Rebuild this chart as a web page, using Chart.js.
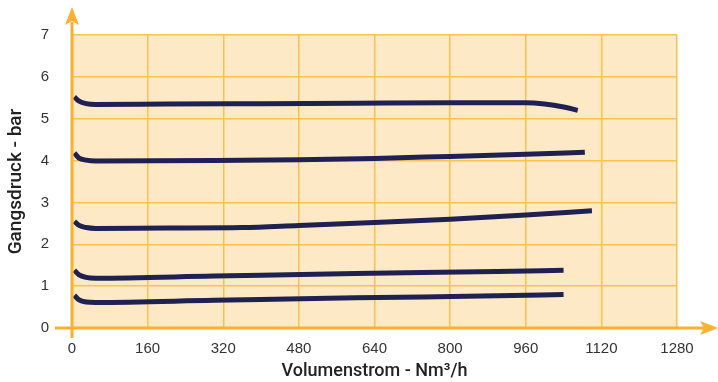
<!DOCTYPE html>
<html>
<head>
<meta charset="utf-8">
<script src="https://cdn.jsdelivr.net/npm/chart.js@4/dist/chart.umd.min.js"></script>
<style>
  html, body { margin: 0; padding: 0; background: #fff; }
  #wrap { position: relative; width: 718px; height: 382px; }
</style>
</head>
<body>
<div id="wrap"><canvas id="c"></canvas></div>
<script>
// x ticks (Nm³/h) and y ticks (bar)
const xTicks = [0, 160, 320, 480, 640, 800, 960, 1120, 1280];
const yTicks = [0, 1, 2, 3, 4, 5, 6, 7];

// curves, top to bottom
const flow1 = [5, 15, 30, 50, 200, 400, 600, 800, 960, 1000, 1040, 1070];
const pres1 = [5.52, 5.42, 5.36, 5.34, 5.35, 5.36, 5.37, 5.38, 5.38, 5.35, 5.28, 5.2];

const flow2 = [5, 15, 30, 50, 300, 480, 640, 800, 960, 1085];
const pres2 = [4.18, 4.06, 4.01, 3.99, 4.0, 4.02, 4.05, 4.1, 4.15, 4.2];

const flow3 = [5, 15, 30, 50, 200, 360, 480, 640, 800, 960, 1100];
const pres3 = [2.55, 2.45, 2.4, 2.38, 2.39, 2.4, 2.45, 2.52, 2.6, 2.7, 2.8];

const flow4 = [5, 15, 30, 50, 300, 600, 900, 1040];
const pres4 = [1.38, 1.27, 1.21, 1.19, 1.24, 1.3, 1.35, 1.38];

const flow5 = [5, 15, 30, 50, 300, 600, 900, 1040];
const pres5 = [0.78, 0.67, 0.62, 0.61, 0.66, 0.72, 0.77, 0.8];

const orange = "#FBB030";
const gridOrange = "#F9C150";
const navy = "#1F2152";

const toPoints = (xs, ys) => xs.map((x, i) => ({ x: x, y: ys[i] }));

const curve = (xs, ys) => ({
  data: toPoints(xs, ys),
  borderColor: navy,
  borderWidth: 5,
  pointRadius: 0,
  showLine: true,
  fill: false,
  cubicInterpolationMode: "monotone",
  borderCapStyle: "butt",
});

// paper fill behind the plot + orange axes with arrows
const chartDecor = {
  id: "chartDecor",
  beforeDraw(chart) {
    const { ctx, chartArea: a } = chart;
    ctx.save();
    ctx.fillStyle = "#FEE9C7";
    ctx.fillRect(a.left, a.top, a.right - a.left, a.bottom - a.top);
    ctx.restore();
  },
  afterDatasetsDraw(chart) {
    const { ctx, chartArea: a, width } = chart;
    ctx.save();
    ctx.strokeStyle = orange;
    ctx.fillStyle = orange;
    ctx.lineWidth = 3;
    // y axis
    ctx.beginPath();
    ctx.moveTo(a.left, a.bottom + 10);
    ctx.lineTo(a.left, 22);
    ctx.stroke();
    ctx.beginPath();
    ctx.moveTo(a.left, 7);
    ctx.lineTo(a.left - 7, 25);
    ctx.lineTo(a.left, 21);
    ctx.lineTo(a.left + 7, 25);
    ctx.closePath();
    ctx.fill();
    // x axis
    ctx.beginPath();
    ctx.moveTo(a.left - 17, a.bottom);
    ctx.lineTo(width - 14, a.bottom);
    ctx.stroke();
    ctx.beginPath();
    ctx.moveTo(width, a.bottom);
    ctx.lineTo(width - 18, a.bottom - 7);
    ctx.lineTo(width - 14, a.bottom);
    ctx.lineTo(width - 18, a.bottom + 7);
    ctx.closePath();
    ctx.fill();
    ctx.restore();
  },
};

new Chart(document.getElementById("c"), {
  type: "scatter",
  data: {
    datasets: [
      curve(flow1, pres1),
      curve(flow2, pres2),
      curve(flow3, pres3),
      curve(flow4, pres4),
      curve(flow5, pres5),
    ],
  },
  options: {
    responsive: true,
    maintainAspectRatio: false,
    animation: false,
    layout: { padding: { top: 35, right: 41, left: 0, bottom: 0 } },
    plugins: {
      legend: { display: false },
      tooltip: { enabled: false },
    },
    scales: {
      x: {
        type: "linear",
        min: xTicks[0],
        max: xTicks[xTicks.length - 1],
        afterBuildTicks: (s) => { s.ticks = xTicks.map((v) => ({ value: v })); },
        afterFit: (s) => { s.height = 54; },
        border: { display: false },
        grid: { color: gridOrange, lineWidth: 1.5, drawTicks: false },
        ticks: {
          padding: 12,
          color: "#333",
          font: { family: "Liberation Sans", size: 15 },
          maxRotation: 0,
          callback: (v) => String(v),
        },
        title: {
          display: true,
          text: "Volumenstrom - Nm³/h",
          color: "#222",
          font: { family: "Roboto", size: 18, weight: "500" },
          padding: { top: 1, bottom: 0 },
        },
      },
      y: {
        min: yTicks[0],
        max: yTicks[yTicks.length - 1],
        afterBuildTicks: (s) => { s.ticks = yTicks.map((v) => ({ value: v })); },
        afterFit: (s) => { s.width = 72; },
        border: { display: false },
        grid: { color: gridOrange, lineWidth: 1.5, drawTicks: false },
        ticks: {
          padding: 23,
          color: "#333",
          font: { family: "Liberation Sans", size: 15 },
          callback: (v) => String(v),
        },
        title: {
          display: true,
          text: "Gangsdruck - bar",
          color: "#222",
          font: { family: "Roboto", size: 19, weight: "500" },
          padding: { top: 5, bottom: 0 },
        },
      },
    },
  },
  plugins: [chartDecor],
});
</script>
</body>
</html>
